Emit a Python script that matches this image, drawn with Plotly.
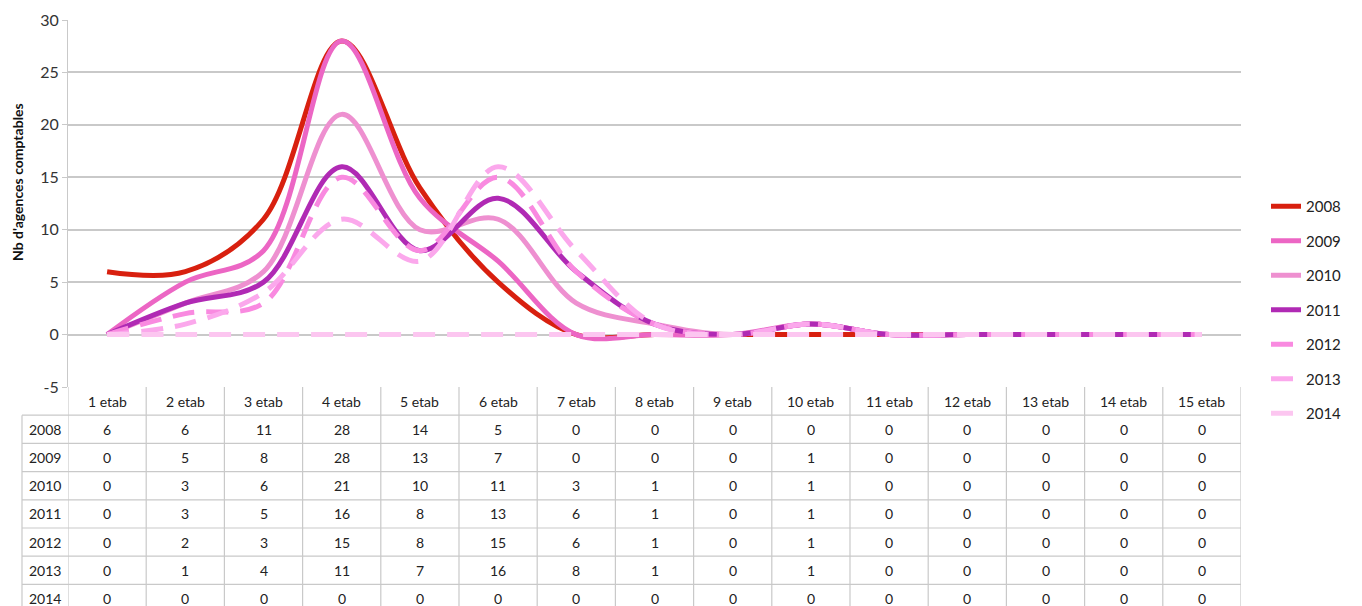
import plotly.graph_objects as go

# Number of accounting agencies by establishment count, per year
categories = [f"{i} etab" for i in range(1, 16)]
years = ["2008", "2009", "2010", "2011", "2012", "2013", "2014"]
v2008 = [6, 6, 11, 28, 14, 5, 0, 0, 0, 0, 0, 0, 0, 0, 0]
v2009 = [0, 5, 8, 28, 13, 7, 0, 0, 0, 1, 0, 0, 0, 0, 0]
v2010 = [0, 3, 6, 21, 10, 11, 3, 1, 0, 1, 0, 0, 0, 0, 0]
v2011 = [0, 3, 5, 16, 8, 13, 6, 1, 0, 1, 0, 0, 0, 0, 0]
v2012 = [0, 2, 3, 15, 8, 15, 6, 1, 0, 1, 0, 0, 0, 0, 0]
v2013 = [0, 1, 4, 11, 7, 16, 8, 1, 0, 1, 0, 0, 0, 0, 0]
v2014 = [0, 0, 0, 0, 0, 0, 0, 0, 0, 0, 0, 0, 0, 0, 0]
series = [v2008, v2009, v2010, v2011, v2012, v2013, v2014]
y_ticks = [-5, 0, 5, 10, 15, 20, 25, 30]
colors = ["#d8200f", "#ec66c4", "#ee90d0", "#b02ab4", "#f98ae0", "#fba8ec", "#fcc6f0"]
dashes = ["solid", "solid", "solid", "solid", "22px,12px", "22px,12px", "22px,12px"]

W, H = 1362, 606
PLOT_L, PLOT_R = 68, 1241
PLOT_T, PLOT_B = 20, 387
TABLE_L = 22
ROW_H = 28.2
FONT = "Lato, 'Liberation Sans', sans-serif"


def py(y_px):
    return 1 - y_px / H


def px(x_px):
    return x_px / W


xs = list(range(len(categories)))
fig = go.Figure()
for name, vals, col, dash in zip(years, series, colors, dashes):
    fig.add_trace(go.Scatter(
        x=xs, y=vals, name=name, mode="lines",
        line=dict(color=col, width=5, dash=dash, shape="spline", smoothing=1.0),
        legendgroup=name, hoverinfo="skip",
    ))

shapes = []
annotations = []
grid_col = "#c9c9c9"
txt_font = dict(size=14, color="#222", family=FONT)
cell = dict(showarrow=False, font=txt_font, xanchor="center", yanchor="middle")

# Data table under the plot: header row + one row per year
n_rows = len(years)
row_edges = [PLOT_B + ROW_H * (i + 1) for i in range(n_rows + 1)]
for y in row_edges:
    shapes.append(dict(type="line", xref="paper", yref="paper", x0=px(TABLE_L), x1=px(PLOT_R),
                       y0=py(y), y1=py(y), line=dict(color=grid_col, width=1.2)))
for k in range(len(categories) + 1):
    shapes.append(dict(type="line", xref="x", yref="paper", x0=k - 0.5, x1=k - 0.5,
                       y0=py(PLOT_B), y1=0, line=dict(color=grid_col, width=1.2)))
shapes.append(dict(type="line", xref="paper", yref="paper", x0=px(TABLE_L), x1=px(TABLE_L),
                   y0=py(row_edges[0]), y1=0, line=dict(color=grid_col, width=1.2)))

for k, c in enumerate(categories):
    annotations.append(dict(x=k, y=py(PLOT_B + ROW_H / 2), xref="x", yref="paper", text=c, **cell))
for r, (yr, vals) in enumerate(zip(years, series)):
    yc = py(PLOT_B + ROW_H * (r + 1.5))
    annotations.append(dict(x=px((TABLE_L + PLOT_L) / 2), y=yc, xref="paper", yref="paper",
                            text=yr, **cell))
    for k, v in enumerate(vals):
        annotations.append(dict(x=k, y=yc, xref="x", yref="paper", text=str(v), **cell))

# Vertical axis title
annotations.append(dict(x=px(18), y=py(182), xref="paper", yref="paper",
                        text="<b>Nb d'agences comptables</b>", textangle=-90,
                        showarrow=False, xanchor="center", yanchor="middle",
                        font=dict(size=14, color="#111", family=FONT)))

fig.update_layout(
    width=W, height=H,
    margin=dict(l=0, r=0, t=0, b=0, autoexpand=False),
    paper_bgcolor="white", plot_bgcolor="white",
    font=dict(family=FONT, size=14, color="#333"),
    xaxis=dict(domain=[px(PLOT_L), px(PLOT_R)], range=[-0.5, len(categories) - 0.5],
               showticklabels=False, showgrid=False, zeroline=False, showline=False,
               fixedrange=True, automargin=False),
    yaxis=dict(domain=[py(PLOT_B), py(PLOT_T)], range=[-5, 30],
               tickvals=y_ticks, ticktext=[str(t) for t in y_ticks],
               showgrid=True, gridcolor=grid_col, gridwidth=1.5, zeroline=False,
               showline=True, linecolor=grid_col, linewidth=1.2,
               ticks="outside", ticklen=5, tickcolor=grid_col,
               tickfont=dict(size=16, color="#333", family=FONT),
               fixedrange=True, automargin=False),
    showlegend=True,
    legend=dict(x=px(1266), xanchor="left", y=py(310), yanchor="middle",
                tracegroupgap=12, itemwidth=30,
                font=dict(size=15, color="#222", family=FONT), bgcolor="rgba(0,0,0,0)"),
    shapes=shapes,
    annotations=annotations,
)

fig.write_html("out.html")
